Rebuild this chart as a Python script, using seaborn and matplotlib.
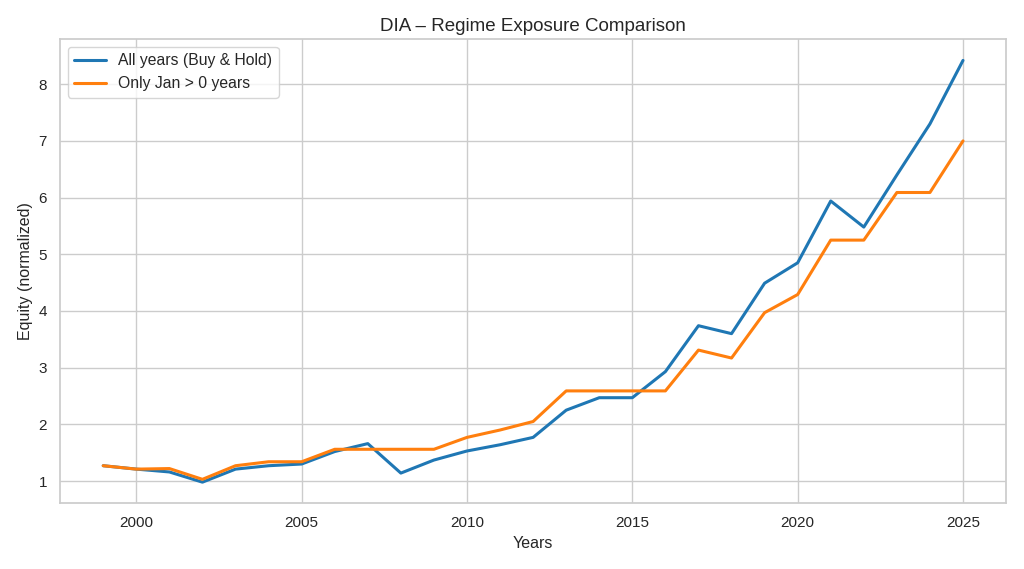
"""DIA regime exposure comparison chart"""
import pandas as pd
import seaborn as sns
import matplotlib
matplotlib.use('Agg')
import matplotlib.pyplot as plt

years = list(range(1999, 2026))

# 全部年份（买入持有）
all_years = [1.27, 1.21, 1.16, 0.98, 1.21, 1.27, 1.30, 1.52, 1.66, 1.14,
             1.37, 1.53, 1.64, 1.77, 2.25, 2.47, 2.47, 2.93, 3.74, 3.60,
             4.49, 4.85, 5.94, 5.48, 6.40, 7.30, 8.42]

# 仅一月上涨年份
jan_positive = [1.27, 1.21, 1.22, 1.03, 1.27, 1.34, 1.34, 1.56, 1.56, 1.56,
                1.56, 1.77, 1.90, 2.05, 2.59, 2.59, 2.59, 2.59, 3.31, 3.17,
                3.97, 4.29, 5.25, 5.25, 6.09, 6.09, 7.00]

series_names = ["All years (Buy & Hold)", "Only Jan > 0 years"]

df = pd.DataFrame({
    "year": years * 2,
    "equity": all_years + jan_positive,
    "series": [series_names[0]] * len(years) + [series_names[1]] * len(years),
})

sns.set_theme(style="whitegrid")
plt.rcParams['font.family'] = ['Liberation Sans', 'DejaVu Sans']
plt.rcParams['axes.titlesize'] = 13.5
plt.rcParams['axes.labelsize'] = 11.5
plt.rcParams['xtick.labelsize'] = 11
plt.rcParams['ytick.labelsize'] = 11
plt.rcParams['legend.fontsize'] = 11.3

fig, ax = plt.subplots(figsize=(10.24, 5.69), dpi=100)
sns.lineplot(data=df, x="year", y="equity", hue="series",
             palette=["#1f77b4", "#ff7f0e"], linewidth=2.2, ax=ax)

ax.set_title("DIA – Regime Exposure Comparison")
ax.set_xlabel("Years")
ax.set_ylabel("Equity (normalized)")
ax.legend(title=None, loc="upper left")

plt.tight_layout()
plt.savefig("out.png")
